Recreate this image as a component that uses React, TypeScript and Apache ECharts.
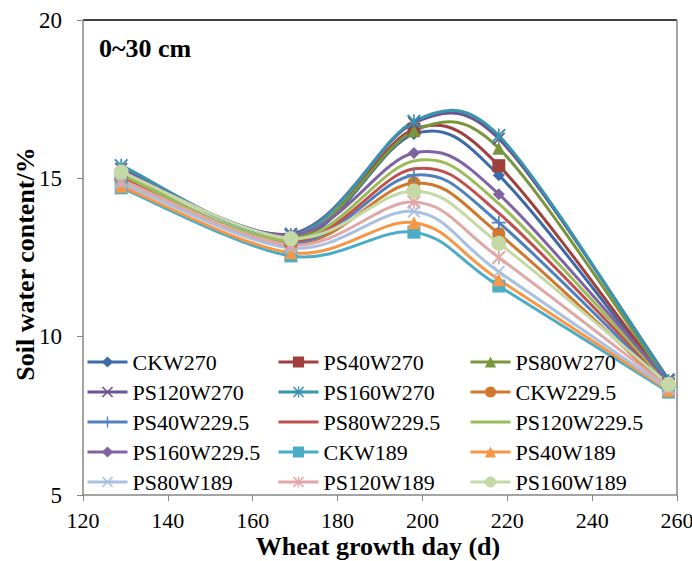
import React, { useEffect, useRef } from "react";
import * as echarts from "echarts";

const days = [129, 169, 198, 218, 258];

const seriesNames = [
  "CKW270", "PS40W270", "PS80W270", "PS120W270", "PS160W270",
  "CKW229.5", "PS40W229.5", "PS80W229.5", "PS120W229.5", "PS160W229.5",
  "CKW189", "PS40W189", "PS80W189", "PS120W189", "PS160W189",
];

const CKW270 = [15.05, 13.0, 16.4, 15.1, 8.45];
const PS40W270 = [15.1, 13.05, 16.55, 15.4, 8.5];
const PS80W270 = [15.15, 13.1, 16.5, 15.95, 8.55];
const PS120W270 = [15.3, 13.25, 16.75, 16.25, 8.65];
const PS160W270 = [15.4, 13.2, 16.8, 16.35, 8.6];
const CKW2295 = [14.95, 12.9, 14.85, 13.25, 8.35];
const PS40W2295 = [15.0, 12.95, 15.1, 13.6, 8.4];
const PS80W2295 = [15.05, 13.0, 15.3, 13.9, 8.45];
const PS120W2295 = [15.1, 13.05, 15.55, 14.2, 8.5];
const PS160W2295 = [15.25, 13.2, 15.8, 14.5, 8.55];
const CKW189 = [14.7, 12.55, 13.3, 11.6, 8.25];
const PS40W189 = [14.75, 12.65, 13.6, 11.8, 8.3];
const PS80W189 = [14.85, 12.8, 13.95, 12.05, 8.35];
const PS120W189 = [14.95, 12.9, 14.25, 12.5, 8.4];
const PS160W189 = [15.2, 13.1, 14.6, 12.95, 8.5];

const seriesValues = [
  CKW270, PS40W270, PS80W270, PS120W270, PS160W270,
  CKW2295, PS40W2295, PS80W2295, PS120W2295, PS160W2295,
  CKW189, PS40W189, PS80W189, PS120W189, PS160W189,
];

const xTicks = { min: 120, max: 260, interval: 20 };
const yTicks = { min: 5, max: 20, interval: 5 };
const xTitle = "Wheat growth day (d)";
const yTitle = "Soil water content/%";
const panelLabel = "0~30 cm";

const colors = [
  "#3E6BA8", "#A0403D", "#7A963D", "#6C5391", "#3795AD",
  "#D0782E", "#4F81BD", "#C0504D", "#9BBB59", "#8064A2",
  "#4BACC6", "#F79646", "#A9C0E0", "#DFA8A7", "#C5D9A6",
];

const CROSS = "path://M0,1 L1,0 L5,4 L9,0 L10,1 L6,5 L10,9 L9,10 L5,6 L1,10 L0,9 L4,5 Z";
const PLUS = "path://M4.4,0 H5.6 V4.4 H10 V5.6 H5.6 V10 H4.4 V5.6 H0 V4.4 H4.4 Z";
const STAR =
  "path://M0,1 L1,0 L5,4 L9,0 L10,1 L6,5 L10,9 L9,10 L5,6 L1,10 L0,9 L4,5 Z M4.4,0 H5.6 V10 H4.4 Z";
const LINE_ICON = "path://M0,0 h0.01 v0.01 h-0.01 Z M0,5.6 H40 V8.4 H0 Z M40,14 h-0.01 v-0.01 h0.01 Z";

const symbols = [
  "diamond", "rect", "triangle", CROSS, STAR,
  "circle", PLUS, "none", "none", "diamond",
  "rect", "triangle", CROSS, STAR, "circle",
];
const symbolSizes = [12, 13, 13, 13, 14, 13, 14, 0, 0, 12, 13, 13, 13, 14, 15];

const legendCols = [
  ["CKW270", "PS120W270", "PS40W229.5", "PS160W229.5", "PS80W189"],
  ["PS40W270", "PS160W270", "PS80W229.5", "CKW189", "PS120W189"],
  ["PS80W270", "CKW229.5", "PS120W229.5", "PS40W189", "PS160W189"],
];
const legendLefts = [86, 277, 469];

const FONT = "'Times New Roman', 'Liberation Serif', serif";

// Excel-like smoothed curve through pixel points
function smoothPath(pts: number[][]): string {
  const n = pts.length;
  const dist = (a: number[], b: number[]) => Math.hypot(b[0] - a[0], b[1] - a[1]);
  let d = `M${pts[0][0]},${pts[0][1]}`;
  for (let i = 0; i < n - 1; i++) {
    const p0 = pts[Math.max(0, i - 1)];
    const p1 = pts[i];
    const p2 = pts[i + 1];
    const p3 = pts[Math.min(n - 1, i + 2)];
    const half = dist(p1, p2) / 2;
    let v1x = (p2[0] - p0[0]) / 6;
    let v1y = (p2[1] - p0[1]) / 6;
    const l1 = Math.hypot(v1x, v1y);
    if (l1 > half) { v1x *= half / l1; v1y *= half / l1; }
    let v2x = (p3[0] - p1[0]) / 6;
    let v2y = (p3[1] - p1[1]) / 6;
    const l2 = Math.hypot(v2x, v2y);
    if (l2 > half) { v2x *= half / l2; v2y *= half / l2; }
    d += ` C${p1[0] + v1x},${p1[1] + v1y} ${p2[0] - v2x},${p2[1] - v2y} ${p2[0]},${p2[1]}`;
  }
  return d;
}

export default function App() {
  const ref = useRef<HTMLDivElement>(null);
  useEffect(() => {
    if (!ref.current) return;
    const chart = echarts.init(ref.current, undefined, { renderer: "svg" });
    const series: any[] = [];
    seriesNames.forEach((name, i) => {
      const vals = seriesValues[i];
      series.push({
        name: name + "_curve",
        type: "custom",
        data: [[days[0], vals[0]]],
        z: 2,
        silent: true,
        renderItem: (params: any, api: any) => {
          const pts = days.map((d, j) => api.coord([d, vals[j]]));
          return {
            type: "path",
            z2: i * 2,
            shape: { pathData: smoothPath(pts) },
            style: { fill: "none", stroke: colors[i], lineWidth: 3 },
          };
        },
      });
      series.push({
        name,
        type: "line",
        data: days.map((d, j) => [d, vals[j]]),
        symbol: symbols[i],
        symbolSize: symbolSizes[i],
        showSymbol: symbols[i] !== "none",
        lineStyle: { width: 3, color: colors[i], opacity: 0 },
        itemStyle: { color: colors[i] },
        z: 3,
      });
    });
    chart.setOption({
      animation: false,
      color: colors,
      textStyle: { fontFamily: FONT },
      grid: { left: 83, right: 15, top: 20, bottom: 66, outerBoundsMode: "none", containLabel: false },
      legend: legendCols.map((col, k) => ({
        data: col.map((nm) =>
          symbols[seriesNames.indexOf(nm)] === "none" ? { name: nm, icon: LINE_ICON } : { name: nm }
        ),
        orient: "vertical",
        left: legendLefts[k],
        top: 351,
        itemWidth: 40,
        itemHeight: 14,
        itemGap: 8,
        padding: 0,
        selectedMode: false,
        lineStyle: { width: 3, opacity: 1 },
        textStyle: { fontFamily: FONT, fontSize: 22, lineHeight: 22, color: "#000" },
      })),
      xAxis: {
        type: "value",
        min: xTicks.min,
        max: xTicks.max,
        interval: xTicks.interval,
        axisLine: { show: true, lineStyle: { color: "#868686", width: 1.5 } },
        axisTick: { show: true, length: 6, lineStyle: { color: "#868686" } },
        axisLabel: { fontFamily: FONT, fontSize: 22, color: "#000", margin: 14 },
        splitLine: { show: false },
      },
      yAxis: {
        type: "value",
        min: yTicks.min,
        max: yTicks.max,
        interval: yTicks.interval,
        axisLine: { show: true, lineStyle: { color: "#868686", width: 1.5 } },
        axisTick: { show: true, length: 6, lineStyle: { color: "#868686" } },
        axisLabel: { fontFamily: FONT, fontSize: 23, color: "#000", margin: 21 },
        splitLine: { show: false },
      },
      graphic: [
        {
          type: "line",
          shape: { x1: 83, y1: 20, x2: 677, y2: 20 },
          style: { stroke: "#000", lineWidth: 1.5 },
        },
        {
          type: "line",
          shape: { x1: 677, y1: 20, x2: 677, y2: 495 },
          style: { stroke: "#868686", lineWidth: 1.5 },
        },
        {
          type: "text",
          x: 99,
          y: 48,
          style: {
            text: panelLabel, fill: "#000", font: `bold 26px ${FONT}`,
            textAlign: "left", textVerticalAlign: "middle",
          },
        },
        {
          type: "text",
          x: 378,
          y: 546,
          style: {
            text: xTitle, fill: "#000", font: `bold 26px ${FONT}`,
            textAlign: "center", textVerticalAlign: "middle",
          },
        },
        {
          type: "text",
          x: 25,
          y: 264,
          rotation: Math.PI / 2,
          style: {
            text: yTitle, fill: "#000", font: `bold 26px ${FONT}`,
            textAlign: "center", textVerticalAlign: "middle",
          },
        },
      ],
      series,
    });
    return () => chart.dispose();
  }, []);
  return (
    <div
      ref={ref}
      style={{ position: "absolute", left: 0, top: 0, width: 692, height: 561 }}
    />
  );
}
